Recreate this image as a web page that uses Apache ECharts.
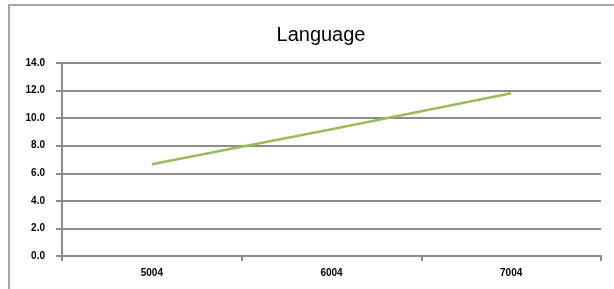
<!DOCTYPE html>
<html>
<head>
<meta charset="utf-8">
<script src="https://cdn.jsdelivr.net/npm/echarts@6/dist/echarts.min.js"></script>
<style>
  html, body { margin: 0; padding: 0; background: #fff; }
  #chart { width: 614px; height: 289px; }
</style>
</head>
<body>
<div id="chart"></div>
<script>
const categories = ['5004', '6004', '7004'];
const languageValues = [6.65, 9.2, 11.8];

const chart = echarts.init(document.getElementById('chart'));
const options = {
  animation: false,
  graphic: [
    {
      type: 'rect',
      shape: { x: 9, y: 5, width: 620, height: 300 },
      style: { fill: 'none', stroke: '#a6a6a6', lineWidth: 2 },
    },
  ],
  title: {
    text: 'Language',
    left: 316,
    top: 20,
    textAlign: 'center',
    textStyle: { fontFamily: 'Liberation Sans', fontSize: 20, fontWeight: 'normal', color: '#000' },
  },
  grid: { left: 62, right: 13, top: 63, bottom: 33 },
  xAxis: {
    type: 'category',
    data: categories,
    boundaryGap: true,
    axisLine: { lineStyle: { color: '#8c8c8c', width: 2 } },
    axisTick: { show: true, interval: 0, length: 5, lineStyle: { color: '#8c8c8c', width: 2 } },
    axisLabel: { color: '#000', fontSize: 10, fontWeight: 'bold', margin: 12, fontFamily: 'Liberation Sans' },
  },
  yAxis: {
    type: 'value',
    min: 0,
    max: 14,
    interval: 2,
    axisLine: { show: true, lineStyle: { color: '#8c8c8c', width: 2 } },
    axisTick: { show: true, length: 6, lineStyle: { color: '#8c8c8c', width: 2 } },
    splitLine: { lineStyle: { color: '#8c8c8c', width: 2 } },
    axisLabel: {
      color: '#000',
      fontSize: 10,
      fontWeight: 'bold',
      margin: 17,
      fontFamily: 'Liberation Sans',
      formatter: (v) => v.toFixed(1),
    },
  },
  series: [
    {
      name: 'Language',
      type: 'line',
      data: languageValues,
      symbol: 'none',
      lineStyle: { color: '#9bbb59', width: 2.5 },
    },
  ],
};
chart.setOption(options);
</script>
</body>
</html>
